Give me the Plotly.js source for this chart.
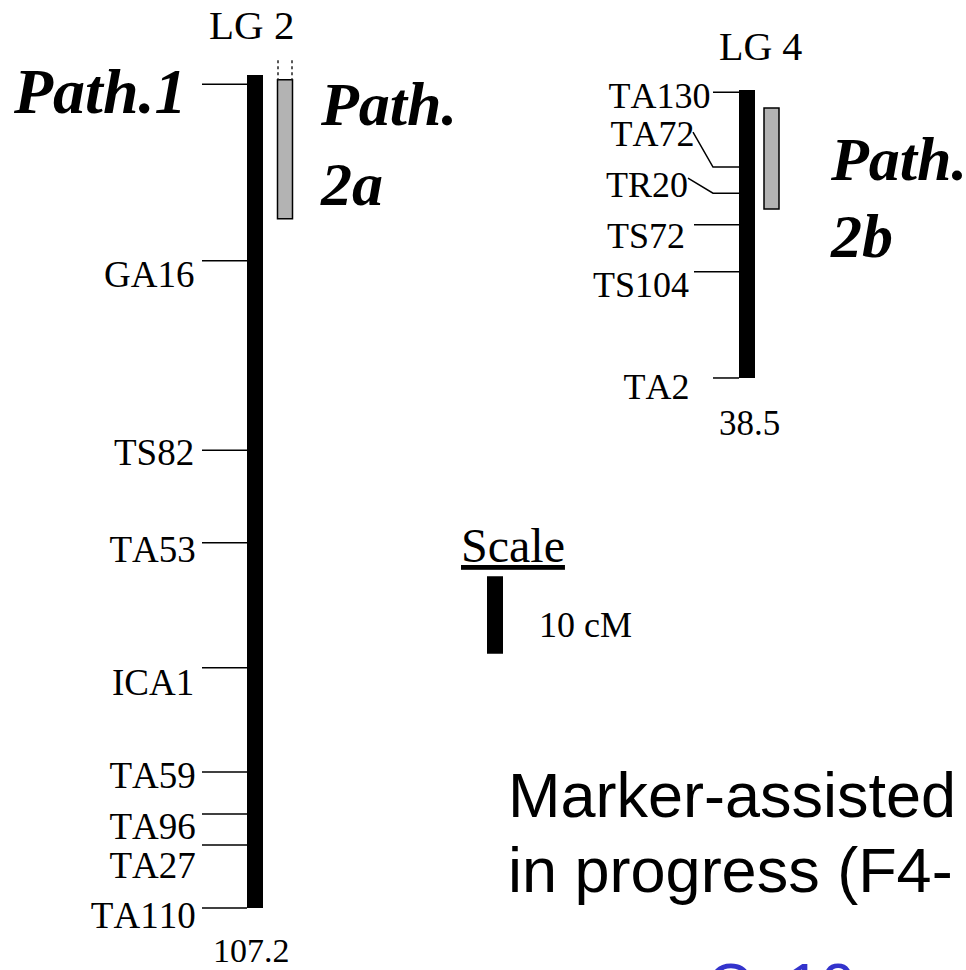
<!DOCTYPE html>
<html>
<head>
<meta charset="utf-8">
<script src="https://cdn.plot.ly/plotly-3.0.1.min.js"></script>
<style>html,body{margin:0;padding:0;background:#fff;}#chart{width:966px;height:970px;}
#chart text{font-kerning:none;}</style>
</head>
<body>
<div id="chart"></div>
<script>
// ---- data (cM) ----
const lg2Markers = ['Path.1', 'GA16', 'TS82', 'TA53', 'ICA1', 'TA59', 'TA96', 'TA27', 'TA110'];
const lg2Pos     = [1.2, 23.9, 48.3, 60.2, 76.3, 89.7, 95.1, 99.1, 107.2];
const lg2Length  = 107.2;
const lg2QTL     = [0.6, 18.5];      // Path. 2a interval
const lg2QTLExt  = [-1.9, 0.6];      // dotted extension above

const lg4Markers = ['TA130', 'TA72', 'TR20', 'TS72', 'TS104', 'TA2'];
const lg4Pos     = [0.3, 10.3, 13.8, 18.0, 24.3, 38.5];
const lg4Length  = 38.5;
const lg4QTL     = [2.4, 15.9];      // Path. 2b interval

const scaleLength = 10;               // 10 cM scale bar
const scaleStart  = 64.5;

// ---- layout geometry (pixels) ----
const W = 966, H = 970;
const lg2Top = 75, lg2Px = 7.77;
const lg4Top = 90, lg4Px = 7.48;
const py = p => 1 - p / H;           // pixel row -> paper

const serif = 'Liberation Serif, Times New Roman, serif';
const sans = 'Liberation Sans, Arial, sans-serif';

// label vertical offsets (px, below tick) and right edges
const lg2Shift = [7, 14, 2, 7, 15, 4, 13, 20, 8];
const lg4Shift = [4, -33, -8, 11, 13, 9];
const lg4Right = [711, 695, 690, 687, 691, 690];

const traces = [];
// chromosome bars
traces.push({type: 'bar', x: [255], y: [lg2Length], base: [0], width: [16], yaxis: 'y',
  marker: {color: '#000', line: {width: 0}}, hoverinfo: 'skip'});
traces.push({type: 'bar', x: [747], y: [lg4Length], base: [0], width: [16], yaxis: 'y2',
  marker: {color: '#000', line: {width: 0}}, hoverinfo: 'skip'});
// QTL boxes
traces.push({type: 'bar', x: [285], y: [lg2QTL[1] - lg2QTL[0]], base: [lg2QTL[0]], width: [15], yaxis: 'y',
  marker: {color: '#b3b3b3', line: {color: '#000', width: 1.5}}, hoverinfo: 'skip'});
traces.push({type: 'bar', x: [771.5], y: [lg4QTL[1] - lg4QTL[0]], base: [lg4QTL[0]], width: [15], yaxis: 'y2',
  marker: {color: '#b3b3b3', line: {color: '#000', width: 1.5}}, hoverinfo: 'skip'});
// scale bar
traces.push({type: 'bar', x: [495], y: [scaleLength], base: [scaleStart], width: [16], yaxis: 'y',
  marker: {color: '#000', line: {width: 0}}, hoverinfo: 'skip'});
// dotted extension
traces.push({type: 'scatter', mode: 'lines', yaxis: 'y',
  x: [278, 278, null, 292, 292], y: [lg2QTLExt[0], lg2QTLExt[1], null, lg2QTLExt[0], lg2QTLExt[1]],
  line: {color: '#222', width: 1.5, dash: 'dot'}, hoverinfo: 'skip'});

// LG2 tick lines
const t2x = [], t2y = [];
lg2Pos.forEach(p => { t2x.push(202, 247, null); t2y.push(p, p, null); });
traces.push({type: 'scatter', mode: 'lines', x: t2x, y: t2y, yaxis: 'y',
  line: {color: '#000', width: 1.5}, hoverinfo: 'skip'});

// LG4 tick lines (with elbows for crowded labels)
const t4x = [], t4y = [];
lg4Pos.forEach((p, i) => {
  if (lg4Shift[i] < 0) {
    const startY = p + (lg4Shift[i] - (i === 1 ? 2 : 7)) / lg4Px;
    t4x.push(lg4Right[i] - 2, 713, 739, null); t4y.push(startY, p, p, null);
  } else {
    const x0 = (i === 0 || i === 5) ? 713 : 694;
    t4x.push(x0, 739, null); t4y.push(p, p, null);
  }
});
traces.push({type: 'scatter', mode: 'lines', x: t4x, y: t4y, yaxis: 'y2',
  line: {color: '#000', width: 1.5}, hoverinfo: 'skip'});

const ann = [];
lg2Markers.forEach((m, i) => {
  const big = i === 0;
  ann.push({text: big ? '<b><i>' + m + '</i></b>' : m, x: big ? 188 : 196, xref: 'x', y: lg2Pos[i], yref: 'y',
    yshift: -lg2Shift[i], xanchor: 'right', yanchor: 'middle', showarrow: false,
    font: {family: serif, size: big ? 64 : 37, color: '#000'}});
});
lg4Markers.forEach((m, i) => {
  ann.push({text: m, x: lg4Right[i], xref: 'x', y: lg4Pos[i], yref: 'y2',
    yshift: -lg4Shift[i], xanchor: 'right', yanchor: 'middle', showarrow: false,
    font: {family: serif, size: 36, color: '#000'}});
});
function txt(t, x, yPix, size, opts) {
  ann.push(Object.assign({text: t, x: x, xref: 'x', y: py(yPix), yref: 'paper', showarrow: false,
    xanchor: 'left', yanchor: 'middle', font: {family: serif, size: size, color: '#000'}}, opts || {}));
}
txt('LG 2', 251, 25, 41, {xanchor: 'center'});
txt('LG 4', 760, 46, 40, {xanchor: 'center'});
txt(String(lg2Length), 251, 950, 34, {xanchor: 'center'});
txt(String(lg4Length), 749, 423, 35, {xanchor: 'center'});
txt('<b><i>Path.</i></b>', 318, 104, 62);
txt('<b><i>2a</i></b>', 318, 184, 62);
txt('<b><i>Path.</i></b>', 828, 159, 62);
txt('<b><i>2b</i></b>', 828, 236, 62);
txt('<u>Scale</u>', 459, 545, 48);
txt('10 cM', 537, 625, 36);
txt('Marker-assisted', 506, 795, 63, {font: {family: sans, size: 63, color: '#000'}});
txt('in progress (F4-', 506, 870, 63, {font: {family: sans, size: 63, color: '#000'}});
txt('C. 10', 705, 984, 62, {font: {family: sans, size: 62, color: '#3333cc'}});

const layout = {
  width: W, height: H, margin: {l: 0, r: 0, t: 0, b: 0},
  paper_bgcolor: '#fff', plot_bgcolor: '#fff', showlegend: false, barmode: 'overlay',
  xaxis: {range: [0, W], visible: false, fixedrange: true},
  yaxis: {range: [(H - lg2Top) / lg2Px, -lg2Top / lg2Px], visible: false, fixedrange: true},
  yaxis2: {range: [(H - lg4Top) / lg4Px, -lg4Top / lg4Px], visible: false, fixedrange: true, overlaying: 'y'},
  annotations: ann
};
Plotly.newPlot('chart', traces, layout, {displayModeBar: false, staticPlot: true});
</script>
</body>
</html>
